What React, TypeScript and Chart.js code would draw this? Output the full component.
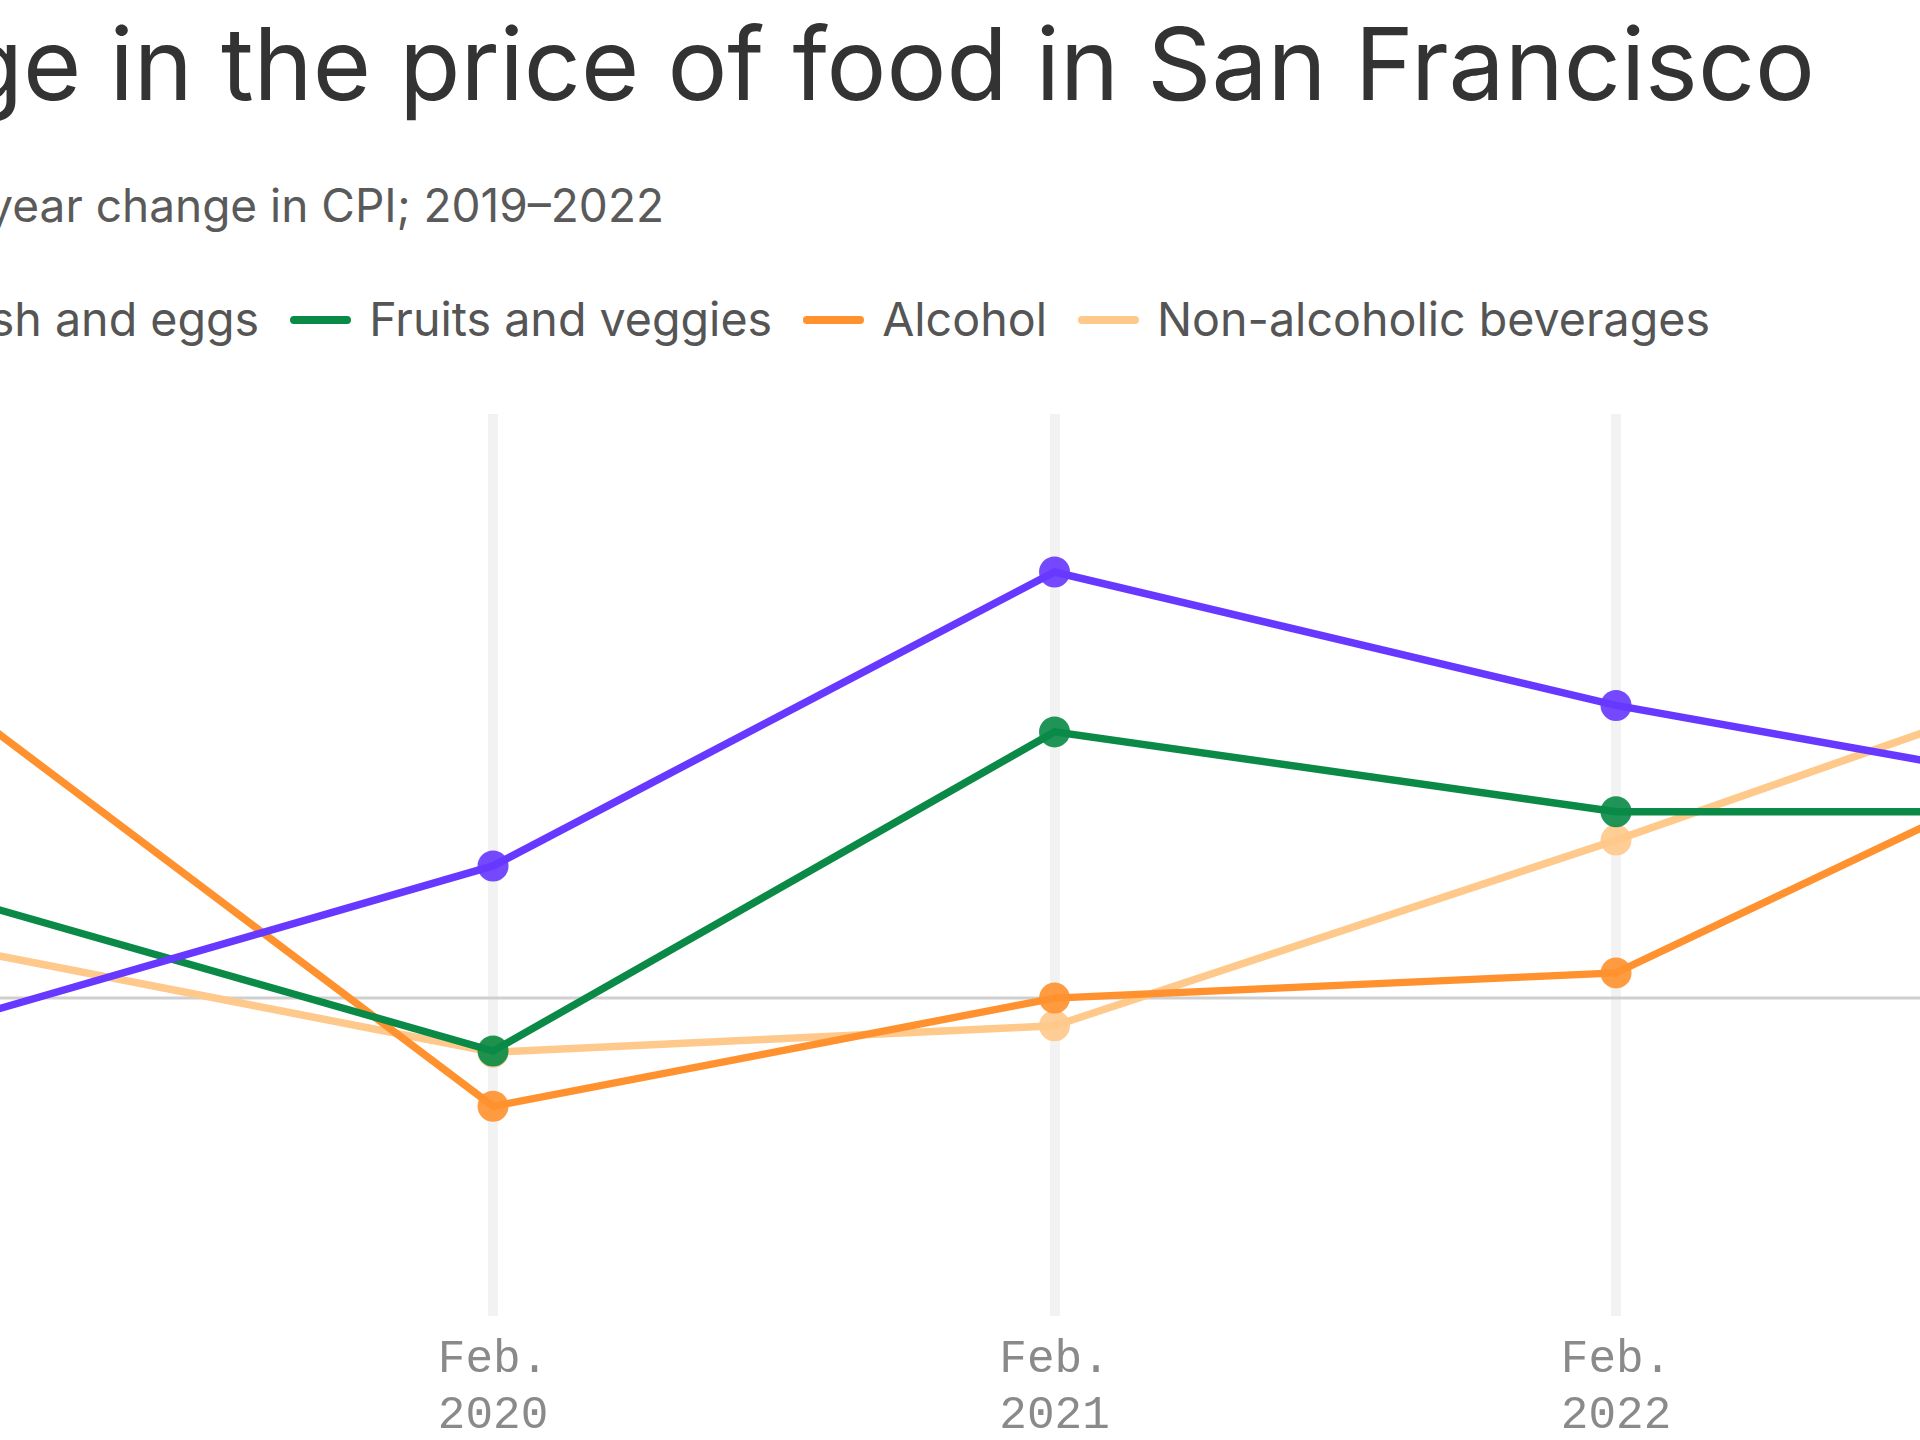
import React, { useEffect, useRef } from "react";
import { Chart, registerables } from "chart.js";

Chart.register(...registerables);

// ---- data ----
const TITLE = "Change in the price of food in San Francisco";
const SUBTITLE = "Year-over-year change in CPI; 2019–2022";
const periods = ["Feb. 2019", "Feb. 2020", "Feb. 2021", "Feb. 2022", "Oct. 2022"];
const monthsSinceJan2019 = [1, 13, 25, 37, 45];
const tickMonths = [1, 13, 25, 37];
const tickLabels = [
  ["Feb.", "2019"],
  ["Feb.", "2020"],
  ["Feb.", "2021"],
  ["Feb.", "2022"],
];
const seriesNames = [
  "Meats, poultry, fish and eggs",
  "Fruits and veggies",
  "Alcohol",
  "Non-alcoholic beverages",
];
const meats = [-0.49, 2.15, 6.93, 4.76, 3.67];
const fruits = [1.75, -0.86, 4.33, 3.03, 3.03];
const alcohol = [5.12, -1.76, 0.0, 0.41, 3.3];
const nonAlcoholic = [0.9, -0.88, -0.45, 2.57, 4.7];
const seriesValues = [meats, fruits, alcohol, nonAlcoholic];
const seriesColors = ["#6738ff", "#0a8a46", "#ff922e", "#ffc98c"];

// ---- view range ----
const X_MIN = -1.811;
const X_MAX = 49.48;
const Y_MIN = -5.17;
const Y_MAX = 9.5;

const zeroLine = {
  id: "zeroLine",
  beforeDatasetsDraw(chart: any) {
    const { ctx, chartArea, scales } = chart;
    const y = scales.y.getPixelForValue(0);
    ctx.save();
    ctx.strokeStyle = "#cfcfcf";
    ctx.lineWidth = 3;
    ctx.beginPath();
    ctx.moveTo(chartArea.left, y);
    ctx.lineTo(chartArea.right, y);
    ctx.stroke();
    ctx.restore();
  },
};

function LineChart() {
  const ref = useRef<HTMLCanvasElement | null>(null);
  useEffect(() => {
    if (!ref.current) return;
    const chart = new Chart(ref.current, {
      type: "line",
      data: {
        datasets: seriesNames.map((name, i) => ({
          label: name,
          data: seriesValues[i].map((v, j) => ({ x: monthsSinceJan2019[j], y: v })),
          borderColor: seriesColors[i],
          backgroundColor: seriesColors[i] + "e8",
          borderWidth: 7.5,
          tension: 0,
          pointRadius: 15.5,
          pointHoverRadius: 15.5,
          pointBorderWidth: 0,
          pointBackgroundColor: seriesColors[i] + "e8",
        })),
      },
      options: {
        animation: false,
        responsive: false,
        events: [],
        layout: { autoPadding: false, padding: { top: 34, left: 0, right: 0, bottom: 0 } },
        plugins: {
          legend: { display: false },
          tooltip: { enabled: false },
          title: { display: false },
        },
        scales: {
          x: {
            type: "linear",
            min: X_MIN,
            max: X_MAX,
            afterBuildTicks: (scale: any) => {
              scale.ticks = tickMonths.map((v) => ({ value: v }));
            },
            afterFit: (scale: any) => {
              scale.height = 124;
            },
            grid: { color: "#f2f2f2", lineWidth: 10, drawTicks: false },
            border: { display: false },
            ticks: {
              autoSkip: false,
              maxRotation: 0,
              padding: 15.5,
              color: "#8a8a8a",
              font: { family: '"Liberation Mono", monospace', size: 46, lineHeight: 1.217 },
              callback: (_v: any, index: number) => tickLabels[index],
            },
          },
          y: { display: false, min: Y_MIN, max: Y_MAX },
        },
      },
      plugins: [zeroLine],
    } as any);
    return () => chart.destroy();
  }, []);
  return (
    <canvas
      ref={ref}
      width={2400}
      height={1060}
      style={{ position: "absolute", left: -200, top: 380, width: 2400, height: 1060 }}
    />
  );
}

export default function App() {
  return (
    <div
      style={{
        position: "absolute",
        left: 0,
        top: 0,
        width: 1920,
        height: 1440,
        overflow: "hidden",
        background: "#ffffff",
        fontFamily: "Inter, sans-serif",
      }}
    >
      <div
        style={{
          position: "absolute",
          right: 105,
          top: 13.6,
          fontSize: 100,
          lineHeight: "100px",
          color: "#333333",
          whiteSpace: "nowrap",
        }}
      >
        {TITLE}
      </div>
      <div
        style={{
          position: "absolute",
          right: 1256,
          top: 182.3,
          fontSize: 46,
          lineHeight: "46px",
          color: "#5a5a5a",
          whiteSpace: "nowrap",
        }}
      >
        {SUBTITLE}
      </div>
      <div
        style={{
          position: "absolute",
          right: 210,
          top: 296.4,
          display: "flex",
          alignItems: "center",
          gap: 31,
          fontSize: 46.6,
          lineHeight: "47px",
          color: "#555555",
          whiteSpace: "nowrap",
        }}
      >
        {seriesNames.map((n, i) => (
          <div key={n} style={{ display: "flex", alignItems: "center" }}>
            <span
              style={{
                display: "inline-block",
                width: 61,
                height: 8,
                borderRadius: 4,
                background: seriesColors[i],
                marginRight: 18,
              }}
            />
            <span>{n}</span>
          </div>
        ))}
      </div>
      <LineChart />
    </div>
  );
}
